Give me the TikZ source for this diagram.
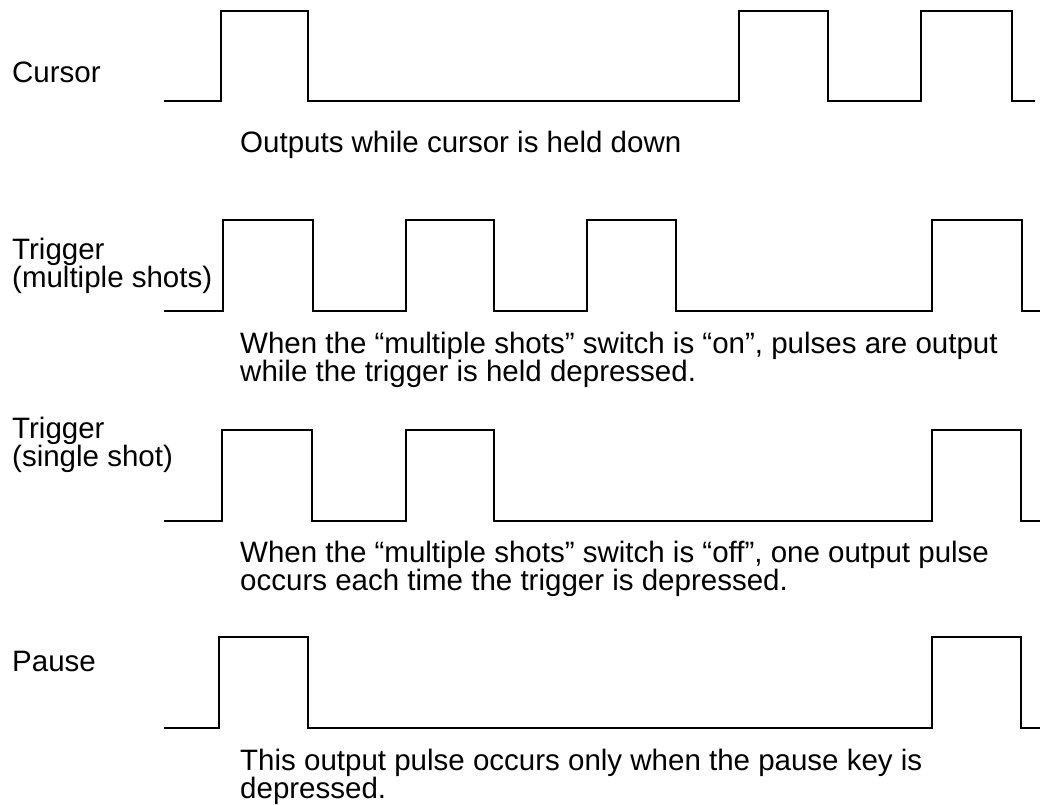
\documentclass[tikz,border=0pt]{standalone}
\usepackage{fontspec}
\setmainfont{Liberation Sans}
\newcommand\tightlines{\lineskiplimit-30pt\relax}
\begin{document}
\begin{tikzpicture}[x=1pt, y=-1pt, line join=miter, line cap=butt,
	every node/.style={font=\fontsize{29.5}{27.5}\selectfont\tightlines, inner sep=0pt, anchor=base west, align=left},
	wave/.style={line width=2.8pt}]
	
	\useasboundingbox (0,0) rectangle (1040,804);
	
	% cursor
	\draw[wave] (164,101) \foreach \a/\b in {221/308, 739/828, 921/1012} { -- (\a,101) -- (\a,11) -- (\b,11) -- (\b,101) } -- (1035,101);
	\node (cursor) at (12,82) {Cursor};
	\node (cursortext) at (240,152) {Outputs while cursor is held down};
	
	% trigger, multiple shots
	\draw[wave] (164,311) \foreach \a/\b in {223/313, 406/494, 587/676, 932/1022} { -- (\a,311) -- (\a,220) -- (\b,220) -- (\b,311) } -- (1040,311);
	\node (multi) at (12,287) {Trigger\\(multiple shots)};
	\node (multitext) at (240,381) {When the “multiple shots” switch is “on”, pulses are output\\while the trigger is held depressed.};
	
	% trigger, single shot
	\draw[wave] (164,521) \foreach \a/\b in {222/312, 406/494, 932/1021} { -- (\a,521) -- (\a,430) -- (\b,430) -- (\b,521) } -- (1040,521);
	\node (single) at (12,466) {Trigger\\(single shot)};
	\node (singletext) at (240,590) {When the “multiple shots” switch is “off”, one output pulse\\occurs each time the trigger is depressed.};
	
	% pause
	\draw[wave] (164,728) \foreach \a/\b in {219/308, 932/1021} { -- (\a,728) -- (\a,637) -- (\b,637) -- (\b,728) } -- (1040,728);
	\node (pause) at (12,671) {Pause};
	\node (pausetext) at (240,798) {This output pulse occurs only when the pause key is\\depressed.};
	
\end{tikzpicture}
\end{document}
